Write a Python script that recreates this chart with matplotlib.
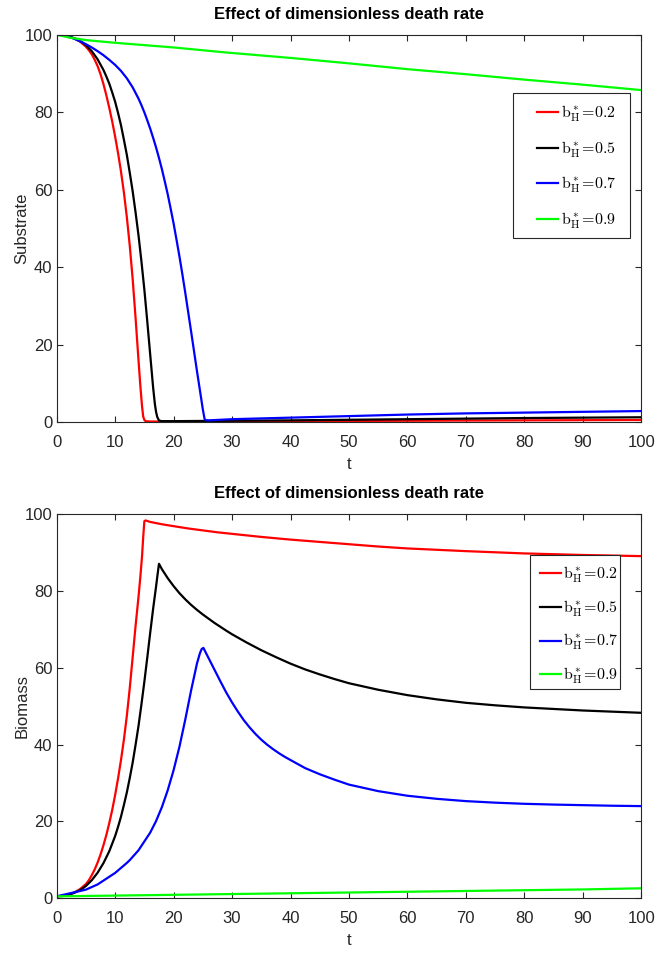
import numpy as np
import matplotlib
matplotlib.use("Agg")
import matplotlib.pyplot as plt
from matplotlib.patches import Rectangle

plt.rcParams['font.family'] = ['Liberation Sans Narrow', 'Liberation Sans', 'DejaVu Sans']
plt.rcParams['mathtext.fontset'] = 'cm'

# substrate, one (t, value) pair of lists per death rate
sub_t_02 = [0, 1, 2, 3, 4, 5, 5.5, 6, 6.5, 7, 7.5, 8, 8.5, 9, 9.5, 10, 10.5, 11, 11.5, 12, 12.5, 13, 13.5, 14, 14.3, 14.6, 14.8, 15, 15.2, 16, 20, 40, 60, 80, 100]
sub_02 = [100, 99.9, 99.6, 99.0, 98.2, 96.9, 96.0, 94.95, 93.55, 91.9, 89.8, 87.25, 84.35, 81.1, 77.6, 73.7, 69.45, 64.7, 59.3, 52.95, 45.6, 36.95, 26.85, 15.95, 9.65, 4.15, 1.5, 0.6, 0.3, 0.2, 0.2, 0.3, 0.4, 0.5, 0.6]

sub_t_05 = [0, 1, 2, 3, 4, 5, 6, 7, 8, 8.5, 9, 9.5, 10, 10.5, 11, 11.5, 12, 12.5, 13, 13.5, 14, 14.5, 15, 15.5, 16, 16.5, 16.8, 17, 17.2, 17.5, 18, 20, 40, 60, 80, 100]
sub_05 = [100, 99.9, 99.65, 99.1, 98.4, 97.3, 95.75, 93.65, 90.9, 89.2, 87.35, 85.1, 82.7, 79.8, 76.65, 72.9, 69.0, 64.4, 59.6, 54.1, 48.2, 41.5, 34.2, 26.0, 17.45, 8.95, 4.7, 2.7, 1.4, 0.45, 0.3, 0.3, 0.5, 0.8, 1.1, 1.3]

sub_t_07 = [0, 1, 2, 3, 4, 5, 6, 7, 8, 9, 10, 11, 12, 13, 14, 14.5, 15, 15.5, 16, 16.5, 17, 17.5, 18, 18.5, 19, 19.5, 20, 20.5, 21, 21.5, 22, 22.5, 23, 23.5, 24, 24.5, 25, 25.3, 25.5, 26, 30, 40, 50, 60, 70, 80, 90, 100]
sub_07 = [100, 99.85, 99.45, 98.95, 98.3, 97.55, 96.7, 95.75, 94.7, 93.5, 92.2, 90.65, 88.75, 86.4, 83.5, 81.8, 79.95, 77.9, 75.75, 73.4, 70.9, 68.2, 65.3, 62.1, 58.8, 55.1, 51.3, 47.1, 42.8, 38.2, 33.4, 28.4, 23.4, 18.3, 13.2, 8.3, 3.35, 0.85, 0.55, 0.5, 0.8, 1.2, 1.6, 2.0, 2.3, 2.5, 2.7, 2.9]

sub_t_09 = [0, 2, 5, 10, 20, 29, 40, 50, 60, 70, 80, 90, 100]
sub_09 = [100, 99.3, 98.6, 97.9, 96.7, 95.4, 94.0, 92.6, 91.1, 89.8, 88.4, 87.1, 85.7]

# biomass
bio_t_02 = [0, 1, 2, 3, 4, 5, 5.5, 6, 6.5, 7, 7.5, 8, 8.5, 9, 9.5, 10, 10.5, 11, 11.5, 12, 12.5, 13, 13.5, 14, 14.3, 14.6, 14.8, 15, 15.2, 16, 18, 20, 22.5, 25, 27.5, 30, 35, 40, 45, 50, 55, 60, 70, 80, 90, 100]
bio_02 = [0.5, 0.6, 0.9, 1.5, 2.4, 3.7, 4.7, 6.0, 7.5, 9.3, 11.4, 13.8, 16.5, 19.6, 23.0, 26.9, 31.2, 36.0, 41.3, 47.5, 54.7, 62.8, 71.0, 78.5, 83.5, 89.0, 94.0, 98.2, 98.4, 98.0, 97.4, 96.9, 96.3, 95.8, 95.3, 94.9, 94.1, 93.4, 92.8, 92.2, 91.6, 91.1, 90.4, 89.8, 89.4, 89.1]

bio_t_05 = [0, 1, 2, 3, 4, 5, 6, 7, 8, 9, 10, 10.5, 11, 11.5, 12, 12.5, 13, 13.5, 14, 14.5, 15, 15.5, 16, 16.5, 17, 17.25, 17.5, 18, 19, 20, 21, 22, 23, 24, 25, 26, 27, 28, 29, 30, 32.5, 35, 37.5, 40, 42.5, 45, 47.5, 50, 55, 60, 65, 70, 75, 80, 85, 90, 95, 100]
bio_05 = [0.5, 0.65, 0.9, 1.4, 2.1, 3.2, 4.7, 6.65, 9.15, 12.25, 16.2, 18.6, 21.25, 24.3, 27.55, 31.3, 35.35, 40.0, 44.9, 50.5, 56.4, 62.7, 69.15, 75.4, 81.15, 84.2, 87.1, 85.7, 83.35, 81.3, 79.45, 77.85, 76.4, 75.1, 73.9, 72.8, 71.7, 70.7, 69.7, 68.75, 66.6, 64.6, 62.8, 61.1, 59.6, 58.3, 57.1, 56.0, 54.3, 52.9, 51.8, 50.9, 50.25, 49.7, 49.3, 48.9, 48.6, 48.3]

bio_t_07 = [0, 5, 7, 10, 12, 12.5, 14, 16, 17, 18, 19, 20, 21, 22, 23, 24, 24.5, 24.8, 25.1, 25.5, 26, 27, 28, 29, 30, 31, 32, 33, 34, 35, 36, 37, 38, 39, 40, 42.5, 45, 47.5, 50, 55, 60, 65, 70, 75, 80, 85, 90, 95, 100]
bio_07 = [0.5, 2.25, 3.6, 6.6, 9.2, 9.93, 12.5, 17.1, 20.1, 23.75, 28.15, 33.35, 39.45, 46.55, 54.15, 61.15, 63.8, 64.9, 65.2, 64.0, 62.5, 59.5, 56.5, 53.6, 51.0, 48.6, 46.4, 44.5, 42.8, 41.3, 40.0, 38.85, 37.8, 36.85, 36.0, 33.9, 32.3, 30.9, 29.6, 27.9, 26.7, 25.9, 25.3, 24.9, 24.6, 24.4, 24.25, 24.1, 24.0]

bio_t_09 = [0, 10, 20, 30, 40, 50, 60, 70, 80, 90, 100]
bio_09 = [0.5, 0.7, 0.9, 1.1, 1.3, 1.5, 1.7, 1.9, 2.1, 2.3, 2.6]

labels = [r'$\mathrm{b^*_H\!=\!0.2}$', r'$\mathrm{b^*_H\!=\!0.5}$',
          r'$\mathrm{b^*_H\!=\!0.7}$', r'$\mathrm{b^*_H\!=\!0.9}$']
colors = ['#ff0000', '#000000', '#0000ff', '#00ff00']

substrate = [(sub_t_02, sub_02), (sub_t_05, sub_05), (sub_t_07, sub_07), (sub_t_09, sub_09)]
biomass = [(bio_t_02, bio_02), (bio_t_05, bio_05), (bio_t_07, bio_07), (bio_t_09, bio_09)]

fig = plt.figure(figsize=(6.56, 9.55), dpi=100)
ax1 = fig.add_axes([0.0864, 0.5578, 0.8911, 0.4059])
ax2 = fig.add_axes([0.0864, 0.0594, 0.8911, 0.4021])


def style(ax, ylabel):
    ax.set_xlim(0, 100)
    ax.set_ylim(0, 100)
    ax.set_xticks(np.arange(0, 101, 10))
    ax.set_yticks(np.arange(0, 101, 20))
    ax.tick_params(direction='in', top=True, right=True, length=4, width=0.8,
                   colors='#262626', labelsize=12)
    ax.tick_params(axis='x', pad=9)
    ax.tick_params(axis='y', pad=3)
    for s in ax.spines.values():
        s.set_color('#262626')
        s.set_linewidth(0.8)
    ax.set_xlabel('t', fontsize=12, color='#262626', labelpad=5)
    ax.set_ylabel(ylabel, fontsize=12, color='#262626')
    ax.yaxis.set_label_coords(-0.047, 0.5)
    ax.set_title('Effect of dimensionless death rate', fontsize=12,
                 fontweight='bold', pad=11.5)


def boxed_legend(ax, anchor, box, spacing):
    # frameless legend, square frame drawn separately so the side margins can differ
    leg = ax.legend(loc='upper left', bbox_to_anchor=anchor, fontsize=11.5,
                    frameon=False, handlelength=1.35, handletextpad=0.15,
                    labelspacing=spacing, borderpad=0, borderaxespad=0)
    for h in leg.get_lines():
        h.set_linewidth(1.6)
    x0, y0, x1, y1 = box
    ax.add_patch(Rectangle((x0, y0), x1 - x0, y1 - y0, transform=ax.transAxes,
                           facecolor='white', edgecolor='#262626', lw=0.8, zorder=4))
    leg.set_zorder(5)


for (t, v), c, lab in zip(substrate, colors, labels):
    ax1.plot(t, v, color=c, lw=1.6, label=lab)
style(ax1, 'Substrate')
boxed_legend(ax1, (0.821, 0.821), (0.780, 0.475, 0.981, 0.849), 0.96)

for (t, v), c, lab in zip(biomass, colors, labels):
    ax2.plot(t, v, color=c, lw=1.6, label=lab)
style(ax2, 'Biomass')
boxed_legend(ax2, (0.826, 0.868), (0.809, 0.545, 0.964, 0.894), 0.84)

fig.savefig('out.png', dpi=100)
